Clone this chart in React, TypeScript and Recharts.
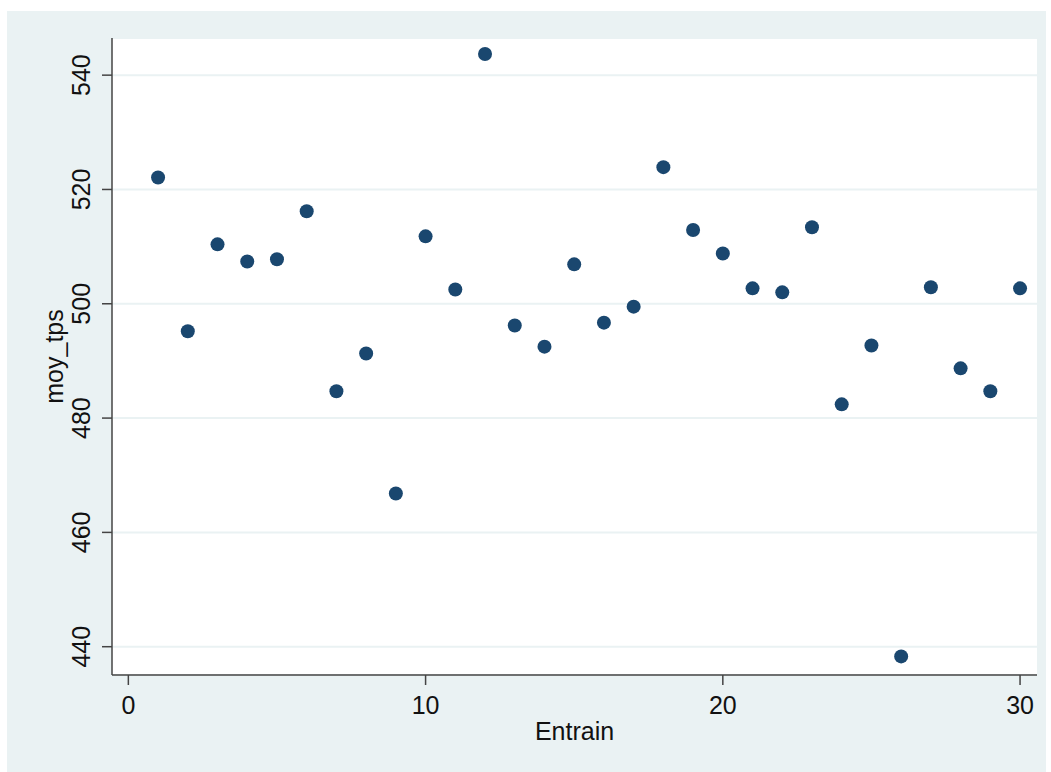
import { ScatterChart, Scatter, XAxis, YAxis, CartesianGrid, Label } from 'recharts';

const entrain = [1, 2, 3, 4, 5, 6, 7, 8, 9, 10, 11, 12, 13, 14, 15, 16, 17, 18, 19, 20, 21, 22, 23, 24, 25, 26, 27, 28, 29, 30];
const moyTps = [
  522.1, 495.2, 510.4, 507.4, 507.8, 516.2, 484.7, 491.3, 466.8, 511.8,
  502.5, 543.7, 496.2, 492.5, 506.9, 496.7, 499.5, 523.9, 512.9, 508.8,
  502.7, 502.0, 513.4, 482.4, 492.7, 438.3, 502.9, 488.7, 484.7, 502.7,
];
const xTicks = [0, 10, 20, 30];
const yTicks = [440, 460, 480, 500, 520, 540];

const data = entrain.map((e, i) => ({ entrain: e, moy_tps: moyTps[i] }));

const font = '"Liberation Sans", Arial, sans-serif';
const bg = '#EAF2F3';

const XTick = (props: any) => {
  const { x, y, payload } = props;
  return (
    <text x={x} y={y + 27} textAnchor="middle" fontFamily={font} fontSize={25} fill="#111">
      {payload.value}
    </text>
  );
};

const YTick = (props: any) => {
  const { x, y, payload } = props;
  const bx = x - 10;
  return (
    <text x={bx} y={y} transform={`rotate(-90 ${bx} ${y})`} textAnchor="middle" fontFamily={font} fontSize={25} fill="#111">
      {payload.value}
    </text>
  );
};

const Dot = (props: any) => <circle cx={props.cx} cy={props.cy} r={7} fill="#1A476F" />;

export default function App() {
  return (
    <div style={{ position: 'absolute', left: 0, top: 0, width: 1051, height: 772, background: '#fff' }}>
      <div style={{ position: 'absolute', left: 7, top: 11, width: 1039, height: 761, background: bg }} />
      <div style={{ position: 'absolute', left: 0, top: 0 }}>
        <ScatterChart width={1051} height={772} margin={{ top: 38, right: 14, bottom: 0, left: 0 }}>
          <CartesianGrid vertical={false} fill="#fff" stroke={bg} strokeWidth={2} />
          <XAxis
            type="number"
            dataKey="entrain"
            domain={[-0.55, 30.57]}
            ticks={xTicks}
            allowDataOverflow
            height={97}
            tickSize={10}
            stroke="#444"
            strokeWidth={1.5}
            tick={<XTick />}
          >
            <Label
              value="Entrain"
              position="insideBottom"
              offset={32}
              style={{ fontFamily: font, fontSize: 25, fill: '#111' }}
            />
          </XAxis>
          <YAxis
            type="number"
            dataKey="moy_tps"
            domain={[435.05, 546.5]}
            ticks={yTicks}
            allowDataOverflow
            width={112}
            tickSize={10}
            stroke="#444"
            strokeWidth={1.5}
            tick={<YTick />}
          >
            <Label
              content={(p: any) => {
                const vb = p.viewBox || {};
                const cy = vb.y + vb.height / 2;
                return (
                  <text x={63} y={cy} transform={`rotate(-90 63 ${cy})`} textAnchor="middle" fontFamily={font} fontSize={25} fill="#111">
                    moy_tps
                  </text>
                );
              }}
            />
          </YAxis>
          <Scatter data={data} shape={<Dot />} isAnimationActive={false} />
        </ScatterChart>
      </div>
    </div>
  );
}
